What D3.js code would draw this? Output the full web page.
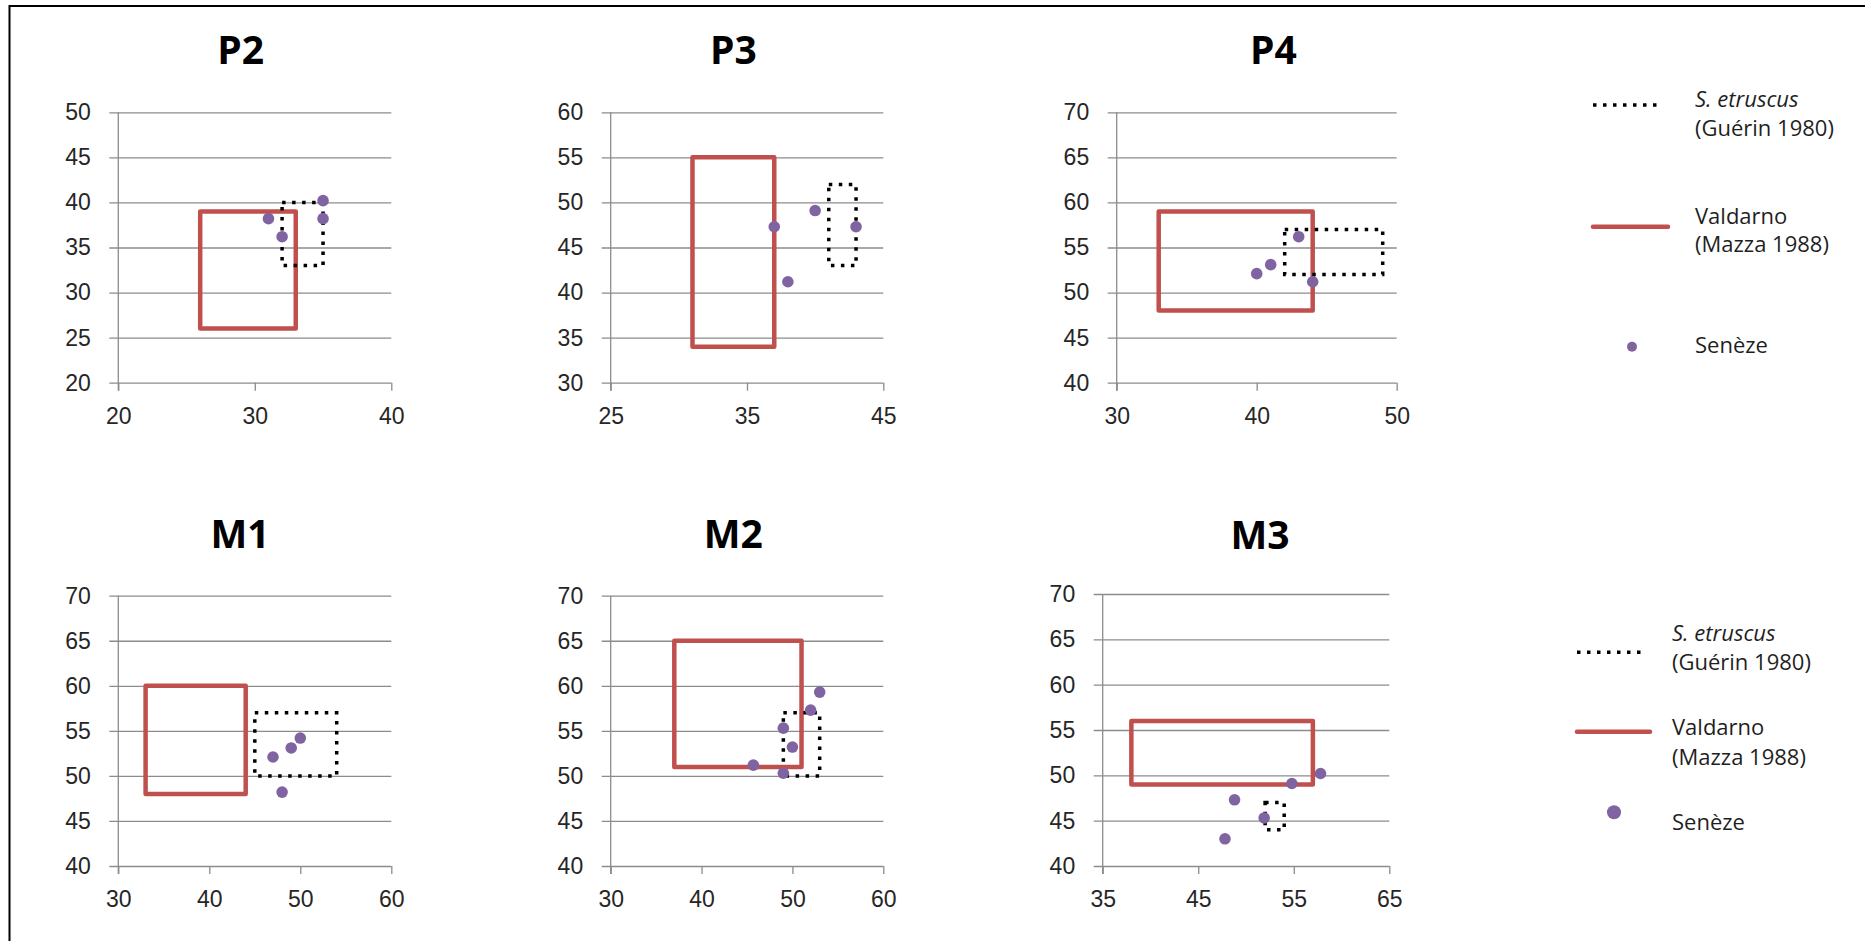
<!DOCTYPE html>
<html>
<head>
<meta charset="utf-8">
<script src="https://cdnjs.cloudflare.com/ajax/libs/d3/7.8.5/d3.min.js"></script>
<style>
    body { margin: 0; background: #fff; }
    svg { display: block; font-family: "Open Sans", sans-serif; }
    .tick line { stroke: #8c8c8c; stroke-width: 1.3; }
    .tick text { fill: #262626; font-size: 23px; }
</style>
</head>
<body>
<div id="chart"></div>
<script>
// panel names and axis ranges
var panelNames = ["P2", "P3", "P4", "M1", "M2", "M3"];
var xDomains = [[20, 40], [25, 45], [30, 50], [30, 60], [30, 60], [35, 65]];
var yDomains = [[20, 50], [30, 60], [40, 70], [40, 70], [40, 70], [40, 70]];
var xTicks = [[20, 30, 40], [25, 35, 45], [30, 40, 50], [30, 40, 50, 60], [30, 40, 50, 60], [35, 45, 55, 65]];
var yTicks = [[20, 25, 30, 35, 40, 45, 50], [30, 35, 40, 45, 50, 55, 60], [40, 45, 50, 55, 60, 65, 70],
              [40, 45, 50, 55, 60, 65, 70], [40, 45, 50, 55, 60, 65, 70], [40, 45, 50, 55, 60, 65, 70]];

// ranges as [xmin, xmax, ymin, ymax]
var valdarno = [[26, 33, 26, 39], [31, 37, 34, 55], [33, 44, 48, 59], [33, 44, 48, 60], [37, 51, 51, 65], [38, 57, 49, 56]];
var etruscus = [[32, 35, 33, 40], [41, 43, 43, 52], [42, 49, 52, 57], [45, 54, 50, 57], [49, 53, 50, 57], [52, 54, 44, 47]];

// Senèze specimens [x, y]
var seneze = [
    [[31, 38.2], [32, 36.2], [35, 40.2], [35, 38.2]],
    [[37, 47.3], [38, 41.2], [40, 49.1], [43, 47.3]],
    [[40, 52.1], [41, 53.1], [43, 56.2], [44, 51.2]],
    [[47, 52.1], [48, 48.2], [49, 53.1], [50, 54.2]],
    [[45.7, 51.2], [49, 50.3], [49, 55.3], [50, 53.2], [52, 57.3], [53, 59.3]],
    [[47.8, 43], [48.8, 47.3], [51.9, 45.3], [54.8, 49.1], [57.8, 50.2]]
];

var legendLabels = [["S. etruscus", "(Guérin 1980)"], ["Valdarno", "(Mazza 1988)"], ["Senèze"]];

var red = "#c0504d", purple = "#8064a2";

var svg = d3.select("#chart").append("svg")
    .attr("width", 1865)
    .attr("height", 941);

// outer frame (top and left edges only)
svg.append("path")
    .attr("d", "M9.5,941V6H1865")
    .attr("fill", "none")
    .attr("stroke", "#000")
    .attr("stroke-width", 2);

// plot boxes: left, right, top, bottom, title x, title y
var layout = [
    [118.3, 391.3, 112.3, 382.7, 240.7, 50],
    [610.7, 883.3, 112.3, 382.7, 733.3, 50],
    [1116.7, 1396.7, 112.3, 382.7, 1273.3, 50],
    [118.3, 391.3, 595.7, 866, 240, 534],
    [610.7, 883.3, 595.7, 866, 733.3, 534],
    [1102.7, 1389.3, 594, 866, 1260, 535]
];

panelNames.forEach(function (name, i) {
    var box = layout[i];
    var x = d3.scaleLinear().domain(xDomains[i]).range([box[0], box[1]]);
    var y = d3.scaleLinear().domain(yDomains[i]).range([box[3], box[2]]);
    var g = svg.append("g");

    // horizontal gridlines + y labels
    g.append("g")
        .attr("transform", "translate(" + (box[0] - 9) + ",0)")
        .call(d3.axisLeft(y).tickValues(yTicks[i]).tickSize(-(box[1] - box[0] + 9)).tickPadding(18.5))
        .call(function (a) { a.select(".domain").remove(); });

    // x ticks + labels
    g.append("g")
        .attr("transform", "translate(0," + box[3] + ")")
        .call(d3.axisBottom(x).tickValues(xTicks[i]).tickSize(8).tickPadding(16.5))
        .call(function (a) { a.select(".domain").remove(); });

    // vertical axis line
    g.append("line")
        .attr("x1", box[0]).attr("x2", box[0])
        .attr("y1", box[2]).attr("y2", box[3] + 8)
        .attr("stroke", "#8c8c8c")
        .attr("stroke-width", 1.3);

    g.append("text")
        .attr("x", box[4])
        .attr("y", box[5])
        .attr("dy", "0.36em")
        .attr("text-anchor", "middle")
        .style("font-size", "39px")
        .style("font-weight", "bold")
        .text(name);

    var v = valdarno[i];
    g.append("rect")
        .attr("x", x(v[0]))
        .attr("y", y(v[3]))
        .attr("width", x(v[1]) - x(v[0]))
        .attr("height", y(v[2]) - y(v[3]))
        .attr("fill", "none")
        .attr("stroke", red)
        .attr("stroke-width", 4.5)
        .attr("stroke-linejoin", "round");

    var e = etruscus[i];
    g.append("rect")
        .attr("x", x(e[0]))
        .attr("y", y(e[3]))
        .attr("width", x(e[1]) - x(e[0]))
        .attr("height", y(e[2]) - y(e[3]))
        .attr("fill", "none")
        .attr("stroke", "#000")
        .attr("stroke-width", 3.5)
        .attr("stroke-dasharray", "3.5,6.5");

    g.selectAll(".dot")
        .data(seneze[i])
        .enter().append("circle")
        .attr("class", "dot")
        .attr("cx", function (d) { return x(d[0]); })
        .attr("cy", function (d) { return y(d[1]); })
        .attr("r", 5.8)
        .attr("fill", purple);
});

// two legends: symbol x0, x1, dot x, dot r, text x, symbol rows y, text rows y
var legends = [
    {x0: 1593, x1: 1668, dotX: 1632, r: 5, tx: 1695, sy: [105, 226.7, 346.7], ty: [[99.3, 128.3], [216, 244], [345]]},
    {x0: 1577, x1: 1650, dotX: 1614, r: 7, tx: 1672, sy: [652.3, 731.7, 812.3], ty: [[632.7, 661.7], [726.7, 756.7], [821.7]]}
];

legends.forEach(function (L) {
    var lg = svg.append("g");
    lg.append("line")
        .attr("x1", L.x0).attr("x2", L.x1 - 6)
        .attr("y1", L.sy[0]).attr("y2", L.sy[0])
        .attr("stroke", "#000")
        .attr("stroke-width", 3.5)
        .attr("stroke-dasharray", "3.5,6.5");
    lg.append("line")
        .attr("x1", L.x0).attr("x2", L.x1)
        .attr("y1", L.sy[1]).attr("y2", L.sy[1])
        .attr("stroke", red)
        .attr("stroke-width", 4.5)
        .attr("stroke-linecap", "round");
    lg.append("circle")
        .attr("cx", L.dotX).attr("cy", L.sy[2])
        .attr("r", L.r)
        .attr("fill", purple);

    legendLabels.forEach(function (lines, k) {
        lines.forEach(function (t, j) {
            lg.append("text")
                .attr("x", L.tx)
                .attr("y", L.ty[k][j])
                .attr("dy", "0.36em")
                .style("font-size", "22px")
                .style("font-style", k === 0 && j === 0 ? "italic" : "normal")
                .attr("fill", "#1f1f1f")
                .text(t);
        });
    });
});
</script>
</body>
</html>
